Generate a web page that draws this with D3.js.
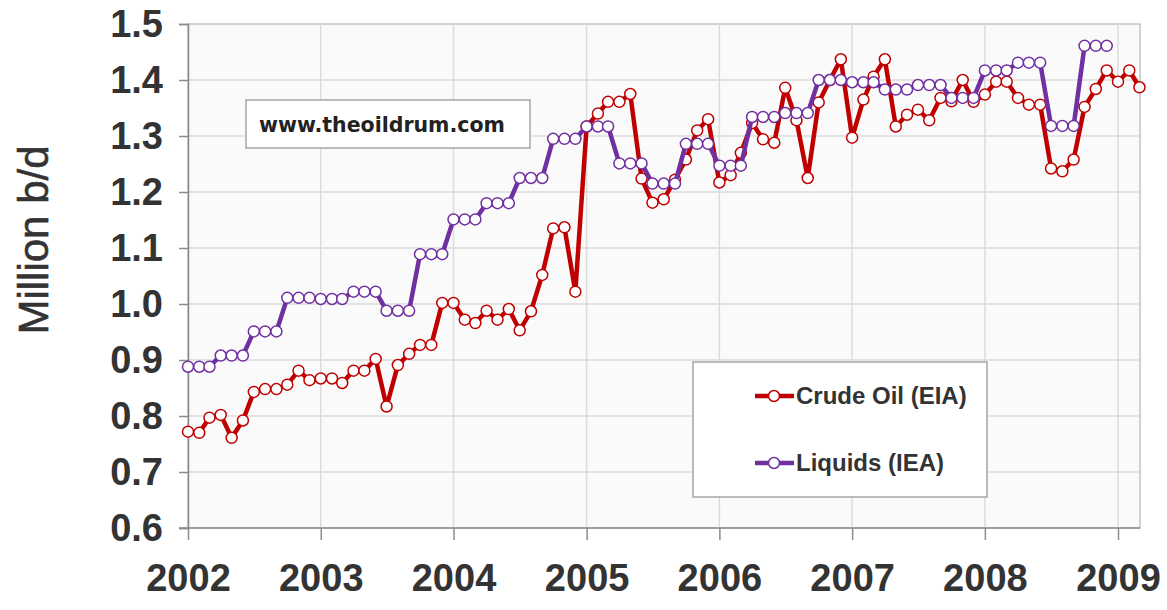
<!DOCTYPE html>
<!-- Crude oil vs liquids production, monthly, 2002-2009 -->
<html lang="en">
<head>
  <meta charset="utf-8">
  <title>Million b/d</title>
  <script src="https://cdn.jsdelivr.net/npm/d3@7"></script>
  <style>
    body { margin: 0; background: #fff; }
    svg { display: block; font-family: "Liberation Sans", Arial, sans-serif; }
  </style>
</head>
<body>
<svg id="chart" width="1167" height="610"></svg>
<script>
  // monthly values, starting Jan 2002
  var startMonth = "2002-01";
  var crudeEIA = [
    0.772, 0.770, 0.797, 0.802, 0.761, 0.792, 0.843, 0.848, 0.848, 0.856, 0.881, 0.864,
    0.867, 0.867, 0.859, 0.881, 0.881, 0.902, 0.817, 0.891, 0.911, 0.927, 0.927, 1.002,
    1.002, 0.972, 0.966, 0.988, 0.972, 0.991, 0.953, 0.987, 1.052, 1.135, 1.137, 1.022,
    1.317, 1.340, 1.361, 1.361, 1.375, 1.224, 1.181, 1.187, 1.222, 1.258, 1.310, 1.330,
    1.217, 1.230, 1.270, 1.323, 1.294, 1.288, 1.386, 1.328, 1.225, 1.360, 1.400, 1.437,
    1.297, 1.365, 1.406, 1.437, 1.317, 1.338, 1.347, 1.328, 1.368, 1.362, 1.400, 1.361,
    1.374, 1.397, 1.397, 1.368, 1.356, 1.356, 1.242, 1.237, 1.258, 1.352, 1.384, 1.417,
    1.397, 1.417, 1.387
  ];
  var liquidsIEA = [
    0.888, 0.888, 0.888, 0.908, 0.908, 0.908, 0.951, 0.951, 0.951, 1.011, 1.011, 1.011,
    1.009, 1.009, 1.009, 1.022, 1.022, 1.022, 0.988, 0.988, 0.988, 1.089, 1.089, 1.089,
    1.151, 1.151, 1.151, 1.180, 1.180, 1.180, 1.225, 1.225, 1.225, 1.295, 1.295, 1.295,
    1.317, 1.317, 1.317, 1.251, 1.251, 1.251, 1.215, 1.215, 1.215, 1.286, 1.286, 1.286,
    1.247, 1.247, 1.247, 1.334, 1.334, 1.334, 1.341, 1.341, 1.341, 1.400, 1.400, 1.400,
    1.396, 1.396, 1.396, 1.383, 1.383, 1.383, 1.391, 1.391, 1.391, 1.368, 1.368, 1.368,
    1.417, 1.417, 1.417, 1.431, 1.431, 1.431, 1.318, 1.318, 1.318, 1.461, 1.461, 1.461
  ];
  var seriesNames = ["Crude Oil (EIA)", "Liquids (IEA)"];
  var seriesColors = ["#c00000", "#7030a0"];
  var yTicks = [0.6, 0.7, 0.8, 0.9, 1.0, 1.1, 1.2, 1.3, 1.4, 1.5];
  var yearTicks = ["2002", "2003", "2004", "2005", "2006", "2007", "2008", "2009"];
  var yLabel = "Million b/d";
  var watermark = "www.theoildrum.com";

  var parseMonth = d3.timeParse("%Y-%m");
  var parseYear = d3.timeParse("%Y");
  var t0 = parseMonth(startMonth);

  function toPoints(arr) {
    return arr.map(function (v, i) { return { date: d3.timeMonth.offset(t0, i), value: v }; });
  }
  var allSeries = [toPoints(crudeEIA), toPoints(liquidsIEA)];

  var svg = d3.select("#chart");

  // plot area box (don't use "top" as a global name, it's window.top)
  var plotL = 188, plotR = 1140, plotT = 24, plotB = 528;

  var x = d3.scaleTime()
    .domain([parseYear("2002"), parseYear("2009")])
    .range([plotL, 1118]);
  var y = d3.scaleLinear().domain([0.6, 1.5]).range([plotB, plotT]);

  svg.append("rect")
    .attr("x", plotL).attr("y", plotT)
    .attr("width", plotR - plotL).attr("height", plotB - plotT)
    .attr("fill", "#fafafa")
    .attr("stroke", "#c4c4c4").attr("stroke-width", 1.5);

  // gridlines
  svg.append("g").selectAll("line").data(yTicks.slice(1, -1)).enter().append("line")
    .attr("x1", plotL).attr("x2", plotR)
    .attr("y1", function (d) { return y(d); }).attr("y2", function (d) { return y(d); })
    .attr("stroke", "#dcdcdc").attr("stroke-width", 1.5);
  svg.append("g").selectAll("line").data(yearTicks.slice(1)).enter().append("line")
    .attr("x1", function (d) { return x(parseYear(d)); }).attr("x2", function (d) { return x(parseYear(d)); })
    .attr("y1", plotT).attr("y2", plotB)
    .attr("stroke", "#dcdcdc").attr("stroke-width", 1.5);

  // y axis
  var yAxis = d3.axisLeft(y).tickValues(yTicks).tickFormat(d3.format(".1f")).tickSizeOuter(0).tickSize(9).tickPadding(16);
  var gy = svg.append("g").attr("transform", "translate(" + plotL + ",0)").call(yAxis);
  gy.select(".domain").attr("stroke", "#8c8c8c").attr("stroke-width", 1.5);
  gy.selectAll(".tick line").attr("stroke", "#8c8c8c").attr("stroke-width", 1.5);
  gy.selectAll(".tick text")
    .attr("font-size", "38px").attr("font-weight", "bold").attr("fill", "#333")
    .attr("font-family", "'Liberation Sans', Arial, sans-serif");

  // x axis
  var xAxis = d3.axisBottom(x).tickValues(yearTicks.map(parseYear)).tickFormat(d3.timeFormat("%Y"))
    .tickSizeOuter(0).tickSize(12).tickPadding(24);
  var gx = svg.append("g").attr("transform", "translate(0," + plotB + ")").call(xAxis);
  gx.select(".domain").attr("d", "M" + (plotL - 9) + ",0H" + plotR).attr("stroke", "#8c8c8c").attr("stroke-width", 1.5);
  gx.selectAll(".tick line").attr("stroke", "#8c8c8c").attr("stroke-width", 1.5);
  gx.selectAll(".tick text")
    .attr("font-size", "38px").attr("font-weight", "bold").attr("fill", "#333")
    .attr("font-family", "'Liberation Sans', Arial, sans-serif");

  // y title
  svg.append("text")
    .attr("transform", "translate(48,240) rotate(-90)")
    .attr("text-anchor", "middle")
    .attr("font-size", "42px").attr("fill", "#333")
    .attr("stroke", "#333").attr("stroke-width", 0.6)
    .text(yLabel);

  // series lines + markers
  var line = d3.line()
    .x(function (d) { return x(d.date); })
    .y(function (d) { return y(d.value); });

  allSeries.forEach(function (pts, i) {
    svg.append("path").datum(pts)
      .attr("d", line)
      .attr("fill", "none")
      .attr("stroke", seriesColors[i]).attr("stroke-width", 4.5)
      .attr("stroke-linejoin", "round");
    svg.append("g").selectAll("circle").data(pts).enter().append("circle")
      .attr("cx", function (d) { return x(d.date); })
      .attr("cy", function (d) { return y(d.value); })
      .attr("r", 5.5)
      .attr("fill", "#fff")
      .attr("stroke", seriesColors[i]).attr("stroke-width", 1.5);
  });

  // watermark box
  svg.append("rect").attr("x", 246).attr("y", 100).attr("width", 284).attr("height", 48)
    .attr("fill", "#fff").attr("stroke", "#a6a6a6").attr("stroke-width", 1.5);
  svg.append("text").attr("x", 259).attr("y", 132)
    .attr("font-family", "'DejaVu Sans', Verdana, sans-serif")
    .attr("font-weight", "bold").attr("font-size", "20.5px").attr("fill", "#222")
    .text(watermark);

  // legend
  svg.append("rect").attr("x", 693).attr("y", 362).attr("width", 294).attr("height", 135)
    .attr("fill", "#fff").attr("stroke", "#a6a6a6").attr("stroke-width", 1.5);
  var legendY = [396, 463];
  seriesNames.forEach(function (name, i) {
    var g = svg.append("g").attr("transform", "translate(0," + legendY[i] + ")");
    g.append("line").attr("x1", 755).attr("x2", 794).attr("y1", 0).attr("y2", 0)
      .attr("stroke", seriesColors[i]).attr("stroke-width", 4.5);
    g.append("circle").attr("cx", 774).attr("cy", 0).attr("r", 5.5)
      .attr("fill", "#fff").attr("stroke", seriesColors[i]).attr("stroke-width", 1.5);
    g.append("text").attr("x", 796).attr("y", 8)
      .attr("font-size", "24px").attr("font-weight", "bold").attr("fill", "#333")
      .text(name);
  });
</script>
</body>
</html>
